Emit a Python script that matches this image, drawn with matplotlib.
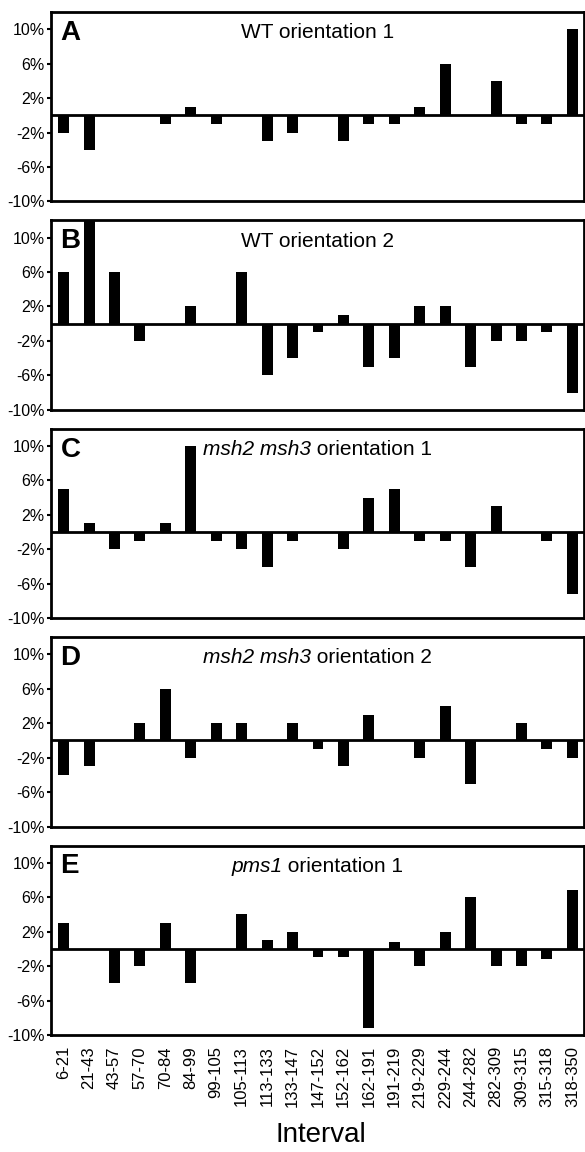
import matplotlib
matplotlib.use("Agg")
import matplotlib.pyplot as plt
from matplotlib.offsetbox import TextArea, HPacker, AnchoredOffsetbox
import numpy as np

# intervalos (eje x compartido)
intervals = ['6-21', '21-43', '43-57', '57-70', '70-84', '84-99', '99-105',
             '105-113', '113-133', '133-147', '147-152', '152-162', '162-191',
             '191-219', '219-229', '229-244', '244-282', '282-309', '309-315',
             '315-318', '318-350']

# valores (%)
wt_or1 = [-2, -4, 0, 0, -1, 1, -1, 0, -3, -2, 0, -3, -1, -1, 1, 6, 0, 4, -1, -1, 10]
wt_or2 = [6, 12, 6, -2, 0, 2, 0, 6, -6, -4, -1, 1, -5, -4, 2, 2, -5, -2, -2, -1, -8]
msh_or1 = [5, 1, -2, -1, 1, 10, -1, -2, -4, -1, 0, -2, 4, 5, -1, -1, -4, 3, 0, -1, -7.2]
msh_or2 = [-4, -3, 0, 2, 6, -2, 2, 2, 0, 2, -1, -3, 3, 0, -2, 4, -5, 0, 2, -1, -2]
pms_or1 = [3, 0, -4, -2, 3, -4, 0, 4, 1, 2, -1, -1, -9.2, 0.8, -2, 2, 6, -2, -2, -1.2, 6.8]

letters = ['A', 'B', 'C', 'D', 'E']
# (parte en cursiva, resto del titulo)
titles = [('', 'WT orientation 1'),
          ('', 'WT orientation 2'),
          ('msh2 msh3', ' orientation 1'),
          ('msh2 msh3', ' orientation 2'),
          ('pms1', ' orientation 1')]
series = [wt_or1, wt_or2, msh_or1, msh_or2, pms_or1]

yticks = [-10, -6, -2, 2, 6, 10]
ytick_labels = ['%d%%' % t for t in yticks]

plt.rcParams['font.family'] = ['Liberation Sans', 'DejaVu Sans']

fig, axes = plt.subplots(5, 1, figsize=(5.85, 11.52), dpi=100, sharex=True)
fig.subplots_adjust(left=0.087, right=0.998, bottom=0.1016, top=0.9896, hspace=0.1)

x = np.arange(len(intervals))
tsize = 15

for ax, vals, letra, (cursiva, resto) in zip(axes, series, letters, titles):
    ax.bar(x, vals, width=0.43, color='black', edgecolor='black', linewidth=0)
    ax.axhline(0, color='black', linewidth=2)
    ax.set_xlim(-0.5, len(intervals) - 0.55)
    ax.set_ylim(-10, 12)
    ax.set_yticks(yticks)
    ax.set_yticklabels(ytick_labels, fontsize=11.5)
    ax.tick_params(axis='y', direction='out', length=3, width=1.5, pad=1.5)
    ax.tick_params(axis='x', length=0)
    for s in ax.spines.values():
        s.set_linewidth(2)
    ax.text(0.018, 0.89, letra, transform=ax.transAxes, fontsize=20,
            fontweight='bold', va='center', ha='left')

    # titulo con parte en cursiva
    partes = []
    if cursiva:
        partes.append(TextArea(cursiva, textprops=dict(fontsize=tsize, style='italic')))
    partes.append(TextArea(resto, textprops=dict(fontsize=tsize)))
    caja = HPacker(children=partes, align='baseline', pad=0, sep=0)
    anc = AnchoredOffsetbox(loc='center', child=caja, pad=0, frameon=False,
                            bbox_to_anchor=(0.5, 0.89), bbox_transform=ax.transAxes,
                            borderpad=0)
    ax.add_artist(anc)

axes[-1].set_xticks(x)
axes[-1].set_xticklabels(intervals, rotation=90, fontsize=12)
axes[-1].tick_params(axis='x', pad=8)

fig.text(0.549, 0.0148, 'Interval', fontsize=20, ha='center', va='center')

plt.savefig('out.png', dpi=100)
